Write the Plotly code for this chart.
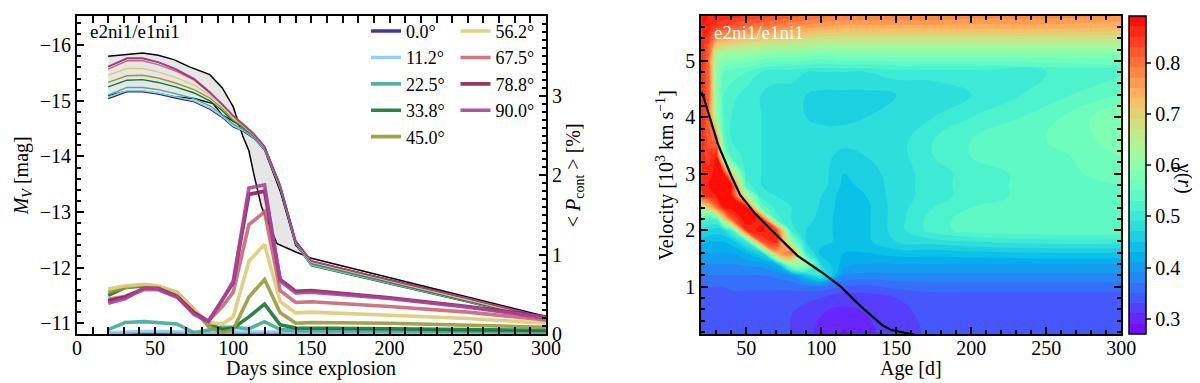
import math

import plotly.graph_objects as go

# ---------------- left panel: light curves + continuum polarisation ----------------
ANGLES = ["0.0°", "11.2°", "22.5°", "33.8°", "45.0°", "56.2°", "67.5°", "78.8°", "90.0°"]
COLORS = ["#332288", "#88CCEE", "#44AA99", "#117733", "#999933",
          "#DDCC77", "#CC6677", "#882255", "#AA4499"]

# reference model curves (black) bounding the grey band
REF_A_DAYS = [20, 32, 42, 52, 62, 72, 85, 93, 100, 106, 110, 113, 118, 128, 140, 150, 200, 250, 300]
REF_A_MAG = [-15.80, -15.84, -15.86, -15.82, -15.74, -15.61, -15.47, -15.23, -14.89, -14.37,
             -14.10, -13.70, -13.10, -12.43, -12.28, -12.17, -11.82, -11.47, -11.12]
REF_B_DAYS = [20, 32, 42, 52, 63, 75, 87, 93, 104, 111, 120, 130, 140, 150, 200, 250, 300]
REF_B_MAG = [-15.09, -15.17, -15.17, -15.13, -15.07, -15.04, -14.95, -14.74, -14.57, -14.42,
             -14.12, -13.38, -12.40, -12.10, -11.78, -11.45, -11.08]

LC_DAYS = [20, 32, 42, 52, 63, 75, 85, 93, 100, 106, 113, 120, 130, 140, 150, 200, 250, 300]
LC_MAG = [
    [-15.04, -15.16, -15.16, -15.12, -15.05, -14.98, -14.85, -14.70, -14.53, -14.46, -14.33, -14.12, -13.42, -12.42, -12.03, -11.70, -11.38, -11.03],
    [-15.07, -15.18, -15.18, -15.14, -15.07, -15.00, -14.87, -14.72, -14.55, -14.47, -14.34, -14.13, -13.43, -12.43, -12.04, -11.71, -11.39, -11.04],
    [-15.10, -15.24, -15.24, -15.20, -15.13, -15.04, -14.91, -14.75, -14.58, -14.49, -14.35, -14.14, -13.44, -12.44, -12.06, -11.72, -11.40, -11.05],
    [-15.25, -15.37, -15.38, -15.33, -15.25, -15.14, -15.00, -14.82, -14.63, -14.52, -14.37, -14.15, -13.45, -12.45, -12.08, -11.74, -11.41, -11.06],
    [-15.33, -15.45, -15.46, -15.41, -15.32, -15.20, -15.05, -14.86, -14.66, -14.54, -14.38, -14.16, -13.46, -12.46, -12.09, -11.75, -11.42, -11.07],
    [-15.46, -15.58, -15.58, -15.52, -15.42, -15.28, -15.10, -14.90, -14.69, -14.56, -14.39, -14.17, -13.47, -12.47, -12.10, -11.76, -11.43, -11.08],
    [-15.57, -15.72, -15.72, -15.65, -15.54, -15.37, -15.14, -14.93, -14.72, -14.58, -14.40, -14.18, -13.48, -12.47, -12.11, -11.77, -11.44, -11.09],
    [-15.61, -15.76, -15.76, -15.69, -15.57, -15.39, -15.15, -14.94, -14.73, -14.59, -14.41, -14.18, -13.48, -12.48, -12.12, -11.78, -11.45, -11.10],
    [-15.62, -15.77, -15.77, -15.70, -15.58, -15.40, -15.16, -14.94, -14.73, -14.59, -14.41, -14.18, -13.48, -12.48, -12.12, -11.78, -11.45, -11.10],
]

POL_DAYS = [20, 31, 43, 52, 64, 75, 84, 93, 100, 110, 120, 130, 140, 150, 200, 250, 300]
POL = [
    [0.005, 0.008, 0.01, 0.01, 0.008, 0.005, 0.005, 0.005, 0.005, 0.005, 0.008, 0.005, 0.005, 0.005, 0.005, 0.005, 0.005],
    [0.02, 0.03, 0.035, 0.035, 0.03, 0.02, 0.02, 0.02, 0.03, 0.03, 0.04, 0.03, 0.02, 0.02, 0.02, 0.02, 0.02],
    [0.06, 0.15, 0.16, 0.15, 0.13, 0.02, 0.06, 0.09, 0.09, 0.07, 0.16, 0.06, 0.05, 0.05, 0.04, 0.04, 0.03],
    [0.49, 0.59, 0.61, 0.58, 0.51, 0.29, 0.14, 0.06, 0.08, 0.22, 0.38, 0.12, 0.08, 0.08, 0.07, 0.06, 0.05],
    [0.53, 0.59, 0.62, 0.59, 0.53, 0.31, 0.10, 0.02, 0.06, 0.47, 0.69, 0.27, 0.14, 0.15, 0.14, 0.12, 0.09],
    [0.57, 0.61, 0.63, 0.61, 0.53, 0.31, 0.15, 0.13, 0.22, 0.92, 1.13, 0.41, 0.27, 0.28, 0.24, 0.20, 0.14],
    [0.44, 0.48, 0.56, 0.56, 0.47, 0.27, 0.17, 0.35, 0.53, 1.38, 1.54, 0.55, 0.40, 0.41, 0.35, 0.28, 0.18],
    [0.42, 0.47, 0.58, 0.58, 0.48, 0.27, 0.16, 0.43, 0.65, 1.76, 1.80, 0.69, 0.54, 0.55, 0.46, 0.35, 0.22],
    [0.39, 0.45, 0.58, 0.57, 0.47, 0.25, 0.16, 0.43, 0.67, 1.84, 1.88, 0.67, 0.52, 0.53, 0.45, 0.34, 0.21],
]

# ---------------- right panel: gamma(r) map + photosphere ----------------
AGES = [20, 25, 30, 35, 40, 50, 60, 70, 80, 90, 100, 115, 130, 150, 175, 200, 250, 300]
VELS = [0.15, 0.5, 0.8, 1.0, 1.2, 1.4, 1.6, 1.8, 2.0, 2.2, 2.4, 2.6, 2.8, 3.0, 3.3, 3.6,
        4.0, 4.4, 4.8, 5.1, 5.35, 5.6, 5.8]
# one column per age, values listed from lowest to highest velocity
GAMMA_BY_AGE = [
    [0.335, 0.335, 0.34, 0.35, 0.37, 0.39, 0.41, 0.44, 0.48, 0.53, 0.66, 0.84, 0.86, 0.86, 0.86, 0.86, 0.86, 0.86, 0.86, 0.86, 0.87, 0.87, 0.88],  # 20
    [0.335, 0.335, 0.34, 0.35, 0.37, 0.39, 0.41, 0.43, 0.47, 0.52, 0.70, 0.86, 0.87, 0.86, 0.84, 0.82, 0.81, 0.81, 0.81, 0.81, 0.83, 0.86, 0.87],  # 25
    [0.335, 0.335, 0.34, 0.35, 0.37, 0.39, 0.41, 0.43, 0.46, 0.52, 0.80, 0.87, 0.88, 0.88, 0.87, 0.80, 0.62, 0.60, 0.60, 0.63, 0.75, 0.84, 0.87],  # 30
    [0.335, 0.335, 0.34, 0.35, 0.37, 0.39, 0.41, 0.43, 0.47, 0.70, 0.87, 0.88, 0.88, 0.87, 0.62, 0.54, 0.53, 0.53, 0.55, 0.61, 0.73, 0.83, 0.86],  # 35
    [0.335, 0.335, 0.34, 0.355, 0.37, 0.39, 0.41, 0.44, 0.52, 0.82, 0.88, 0.88, 0.87, 0.70, 0.53, 0.51, 0.51, 0.52, 0.54, 0.60, 0.72, 0.82, 0.86],  # 40
    [0.335, 0.335, 0.34, 0.355, 0.37, 0.395, 0.43, 0.50, 0.85, 0.89, 0.88, 0.65, 0.52, 0.50, 0.50, 0.50, 0.50, 0.50, 0.53, 0.60, 0.70, 0.80, 0.85],  # 50
    [0.335, 0.335, 0.34, 0.355, 0.37, 0.40, 0.47, 0.82, 0.88, 0.86, 0.55, 0.50, 0.49, 0.49, 0.49, 0.49, 0.49, 0.49, 0.51, 0.59, 0.69, 0.79, 0.84],  # 60
    [0.335, 0.335, 0.34, 0.355, 0.375, 0.43, 0.75, 0.87, 0.84, 0.52, 0.50, 0.49, 0.49, 0.49, 0.49, 0.49, 0.49, 0.48, 0.50, 0.58, 0.68, 0.78, 0.83],  # 70
    [0.33, 0.33, 0.34, 0.355, 0.39, 0.62, 0.80, 0.60, 0.50, 0.49, 0.49, 0.49, 0.49, 0.49, 0.49, 0.49, 0.48, 0.48, 0.50, 0.58, 0.68, 0.77, 0.82],  # 80
    [0.315, 0.32, 0.335, 0.36, 0.45, 0.62, 0.50, 0.47, 0.47, 0.48, 0.49, 0.49, 0.49, 0.49, 0.49, 0.48, 0.47, 0.47, 0.49, 0.58, 0.67, 0.76, 0.81],  # 90
    [0.305, 0.31, 0.33, 0.36, 0.50, 0.47, 0.44, 0.46, 0.46, 0.46, 0.465, 0.47, 0.48, 0.48, 0.48, 0.48, 0.465, 0.465, 0.49, 0.57, 0.66, 0.75, 0.80],  # 100
    [0.285, 0.305, 0.315, 0.35, 0.39, 0.42, 0.43, 0.44, 0.44, 0.44, 0.44, 0.44, 0.445, 0.45, 0.46, 0.48, 0.465, 0.465, 0.49, 0.58, 0.66, 0.74, 0.79],  # 115
    [0.305, 0.31, 0.32, 0.345, 0.385, 0.41, 0.43, 0.445, 0.445, 0.445, 0.445, 0.45, 0.455, 0.46, 0.47, 0.48, 0.47, 0.465, 0.49, 0.58, 0.66, 0.74, 0.79],  # 130
    [0.32, 0.325, 0.33, 0.355, 0.385, 0.41, 0.44, 0.47, 0.48, 0.48, 0.48, 0.48, 0.48, 0.48, 0.48, 0.48, 0.475, 0.47, 0.50, 0.58, 0.66, 0.74, 0.79],  # 150
    [0.335, 0.335, 0.34, 0.36, 0.385, 0.41, 0.44, 0.48, 0.52, 0.52, 0.51, 0.50, 0.50, 0.50, 0.51, 0.51, 0.49, 0.475, 0.50, 0.58, 0.66, 0.74, 0.79],  # 175
    [0.335, 0.335, 0.34, 0.36, 0.385, 0.41, 0.445, 0.49, 0.54, 0.54, 0.53, 0.52, 0.52, 0.52, 0.53, 0.53, 0.51, 0.49, 0.50, 0.58, 0.66, 0.74, 0.78],  # 200
    [0.335, 0.335, 0.34, 0.36, 0.385, 0.41, 0.45, 0.50, 0.55, 0.55, 0.54, 0.54, 0.54, 0.54, 0.54, 0.55, 0.54, 0.52, 0.51, 0.58, 0.66, 0.74, 0.78],  # 250
    [0.335, 0.335, 0.34, 0.36, 0.385, 0.41, 0.45, 0.50, 0.55, 0.55, 0.55, 0.55, 0.55, 0.56, 0.57, 0.58, 0.59, 0.55, 0.53, 0.58, 0.66, 0.73, 0.77],  # 300
]
PHOT_AGE = [20, 21, 31, 40, 46, 56, 66, 84, 100, 113, 126, 141, 147, 157, 162]
PHOT_VEL = [4.45, 4.40, 3.53, 2.96, 2.62, 2.29, 2.02, 1.55, 1.26, 1.00, 0.66, 0.31, 0.23, 0.17, 0.15]

FONT = "Liberation Serif"
W, H = 1200, 383


def px_x(p):
    return p / W


def px_y(p):
    return 1 - p / H


def rainbow_scale(n=24):
    # matplotlib "rainbow" (gnuplot 33,13,10)
    out = []
    for i in range(n + 1):
        t = i / n
        r = min(1.0, abs(2 * t - 0.5))
        g = math.sin(math.pi * t)
        b = math.cos(math.pi * t / 2)
        out.append([t, f"rgb({int(r*255)},{int(g*255)},{int(max(b,0)*255)})"])
    return out


fig = go.Figure()

# grey band between reference curves
fig.add_trace(go.Scatter(x=REF_A_DAYS, y=REF_A_MAG, mode="lines", line=dict(color="black", width=1.5),
                         showlegend=False, xaxis="x", yaxis="y"))
fig.add_trace(go.Scatter(x=REF_B_DAYS, y=REF_B_MAG, mode="lines", line=dict(color="black", width=1.5),
                         fill="tonexty", fillcolor="rgba(200,200,200,0.45)",
                         showlegend=False, xaxis="x", yaxis="y"))

for mags, col in zip(LC_MAG, COLORS):
    fig.add_trace(go.Scatter(x=LC_DAYS, y=mags, mode="lines", line=dict(color=col, width=1.4),
                             showlegend=False, xaxis="x", yaxis="y"))

for i, (vals, col, name) in enumerate(zip(POL, COLORS, ANGLES)):
    fig.add_trace(go.Scatter(x=POL_DAYS, y=vals, mode="lines", name=name,
                             line=dict(color=col, width=3.6), opacity=0.9,
                             legend="legend" if i < 5 else "legend2",
                             xaxis="x", yaxis="y2"))

fig.add_trace(go.Contour(
    x=AGES, y=VELS, z=GAMMA_BY_AGE, transpose=True, xaxis="x2", yaxis="y3",
    colorscale=rainbow_scale(), zmin=0.27, zmax=0.89,
    autocontour=False,
    contours=dict(start=0.27, end=0.89, size=0.02, coloring="fill", showlines=False),
    line=dict(width=0, smoothing=1.3),
    colorbar=dict(
        x=px_x(1135), xanchor="left", xpad=0, thickness=17, thicknessmode="pixels",
        y=px_y(336), yanchor="bottom", len=(336 - 9) / H, lenmode="fraction", ypad=0,
        outlinewidth=1.5, outlinecolor="black",
        tickvals=[0.3, 0.4, 0.5, 0.6, 0.7, 0.8], ticks="outside", ticklen=5, tickwidth=1.5,
        tickfont=dict(family=FONT, size=20, color="black"),
    ),
))
fig.add_trace(go.Scatter(x=PHOT_AGE, y=PHOT_VEL, mode="lines", line=dict(color="black", width=2.2),
                         showlegend=False, xaxis="x2", yaxis="y3"))

axis_common = dict(
    showline=True, linecolor="black", linewidth=2, ticks="inside", ticklen=7, tickwidth=1.5,
    tickcolor="black", showgrid=False, zeroline=False,
    tickfont=dict(family=FONT, size=20, color="black"),
    title_font=dict(family=FONT, size=20, color="black"),
)

left_dom_x = [px_x(65), px_x(542)]
right_dom_x = [px_x(700), px_x(1127)]
dom_y = [px_y(336), px_y(8.5)]

legend_common = dict(xanchor="left", yanchor="top", bgcolor="rgba(0,0,0,0)", traceorder="normal",
                     font=dict(family=FONT, size=18, color="black"), itemwidth=30, tracegroupgap=0)

fig.update_layout(
    width=W, height=H,
    margin=dict(l=0, r=0, t=0, b=0),
    paper_bgcolor="white", plot_bgcolor="white",
    font=dict(family=FONT, size=20, color="black"),
    xaxis=dict(domain=left_dom_x, range=[0, 300], tick0=0, dtick=50, mirror="allticks",
               minor=dict(dtick=10, ticks="inside", ticklen=4, tickcolor="black"),
               ticklabelstandoff=-5, anchor="y", **axis_common),
    yaxis=dict(domain=dom_y, range=[-10.8, -16.52], tick0=-16, dtick=1, anchor="x",
               minor=dict(dtick=0.2, ticks="inside", ticklen=4, tickcolor="black"),
               title=dict(text="<i>M</i><sub><i>V</i></sub> [mag]", standoff=6), **axis_common),
    yaxis2=dict(range=[0, 4], tick0=0, dtick=1, overlaying="y", side="right", anchor="x",
                minor=dict(dtick=0.1, ticks="inside", ticklen=4, tickcolor="black"),
                title=dict(text="< <i>P</i><sub>cont</sub> > [%]", standoff=1), **axis_common),
    xaxis2=dict(domain=right_dom_x, range=[20, 300], tick0=0, dtick=50, mirror="allticks", anchor="y3",
                minor=dict(dtick=10, ticks="inside", ticklen=4, tickcolor="black"),
                ticklabelstandoff=-5, **axis_common),
    yaxis3=dict(domain=dom_y, range=[0.155, 5.79], tick0=0, dtick=1, mirror="allticks", anchor="x2",
                minor=dict(dtick=0.2, ticks="inside", ticklen=4, tickcolor="black"),
                title=dict(text="Velocity [10<sup>3</sup> km s<sup>−1</sup>]", standoff=6), **axis_common),
    legend=dict(x=px_x(359), y=px_y(5), **legend_common),
    legend2=dict(x=px_x(450), y=px_y(5), **legend_common),
    annotations=[
        dict(text="Days since explosion", x=px_x(303), y=px_y(371), xref="paper", yref="paper",
             xanchor="center", yanchor="middle", showarrow=False,
             font=dict(family=FONT, size=20, color="black")),
        dict(text="Age [d]", x=px_x(913), y=px_y(371), xref="paper", yref="paper",
             xanchor="center", yanchor="middle", showarrow=False,
             font=dict(family=FONT, size=20, color="black")),
        dict(text="e2ni1/e1ni1", x=px_x(76), y=px_y(24), xref="paper", yref="paper",
             xanchor="left", yanchor="middle", showarrow=False,
             font=dict(family=FONT, size=19, color="black")),
        dict(text="e2ni1/e1ni1", x=px_x(711), y=px_y(25), xref="paper", yref="paper",
             xanchor="left", yanchor="middle", showarrow=False,
             font=dict(family=FONT, size=19, color="white")),
        dict(text="γ(<i>r</i>)", x=px_x(1191), y=px_y(175), xref="paper", yref="paper",
             xanchor="center", yanchor="middle", showarrow=False, textangle=90,
             font=dict(family=FONT, size=20, color="black")),
    ],
)

fig.write_html("out.html")
